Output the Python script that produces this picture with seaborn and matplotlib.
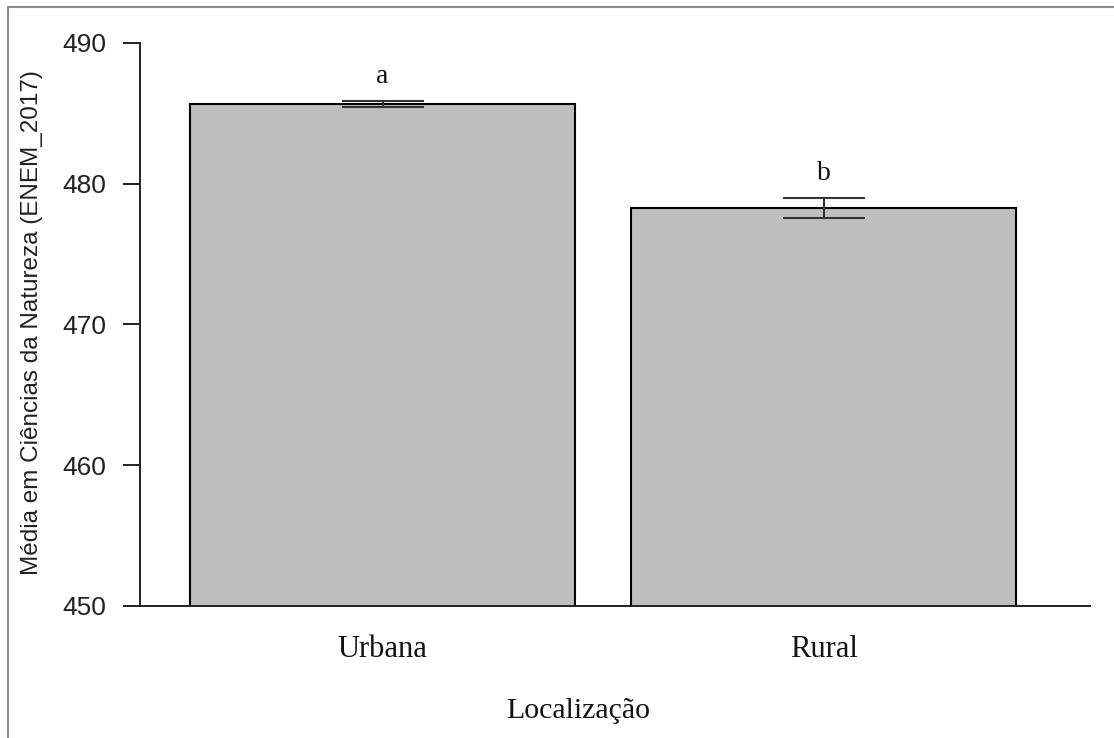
import matplotlib
matplotlib.use("Agg")
import matplotlib.pyplot as plt
from matplotlib.patches import Rectangle
import seaborn as sns
import pandas as pd

# Mean ENEM 2017 natural-science score by school location, with standard errors
locations = ["Urbana", "Rural"]
means = [485.67, 478.28]
errors = [0.23, 0.72]
group_letters = ["a", "b"]
y_ticks = [450, 460, 470, 480, 490]

df = pd.DataFrame({"Localização": locations, "Media": means})

sns.set_style("white")
plt.rcParams["font.family"] = ["Liberation Sans", "DejaVu Sans"]

W, H = 1114, 738
fig = plt.figure(figsize=(W / 100, H / 100), dpi=100)
ax = fig.add_axes([140 / W, 1 - 606 / H, (1090 - 140) / W, (606 - 43) / H])

sns.barplot(data=df, x="Localização", y="Media", color="#BEBEBE", saturation=1,
            edgecolor="black", linewidth=1.5, width=0.873, errorbar=None, ax=ax)

ax.errorbar(x=range(len(locations)), y=means, yerr=errors, fmt="none",
            ecolor="#333333", elinewidth=1.5, capsize=29.5, capthick=1.5, zorder=5)

for i, (m, e, lab) in enumerate(zip(means, errors, group_letters)):
    ax.annotate(lab, (i, m + e), xytext=(0, 13), textcoords="offset points",
                ha="center", va="baseline", fontsize=20, family="Liberation Serif",
                color="#111111")

ax.set_xlim(-0.550, 1.604)
ax.set_ylim(450, 490)
ax.set_yticks(y_ticks)
ax.set_yticklabels([str(t) for t in y_ticks], fontsize=19)
ax.tick_params(axis="y", left=True, length=12, width=1.4, pad=12,
               colors="#222222", labelcolor="#222222")
ax.tick_params(axis="x", bottom=False, length=0, pad=21)
for t in ax.get_xticklabels():
    t.set_fontfamily("Liberation Serif")
    t.set_fontsize(22)
    t.set_color("#111111")

for s in ["top", "right"]:
    ax.spines[s].set_visible(False)
ax.spines["left"].set_linewidth(1.4)
ax.spines["bottom"].set_linewidth(1.4)
ax.spines["left"].set_color("#222222")
ax.spines["bottom"].set_color("#222222")
ax.set_xlabel("")
ax.set_ylabel("")

fig.text(578 / W, 1 - 711 / H, "Localização", ha="center", va="center",
         fontsize=21.5, family="Liberation Serif", color="#111111")
fig.text(32 / W, 1 - 323 / H, "Média em Ciências da Natureza (ENEM_2017)",
         rotation=90, ha="center", va="center", fontsize=17.5, color="#222222")

# outer frame
fig.patches.append(Rectangle((8 / W, -0.5), 1.5, 0.5 + (1 - 7 / H),
                             transform=fig.transFigure, fill=False,
                             edgecolor="#8c8c8c", linewidth=1.5, clip_on=False))

fig.savefig("out.png", dpi=100)
